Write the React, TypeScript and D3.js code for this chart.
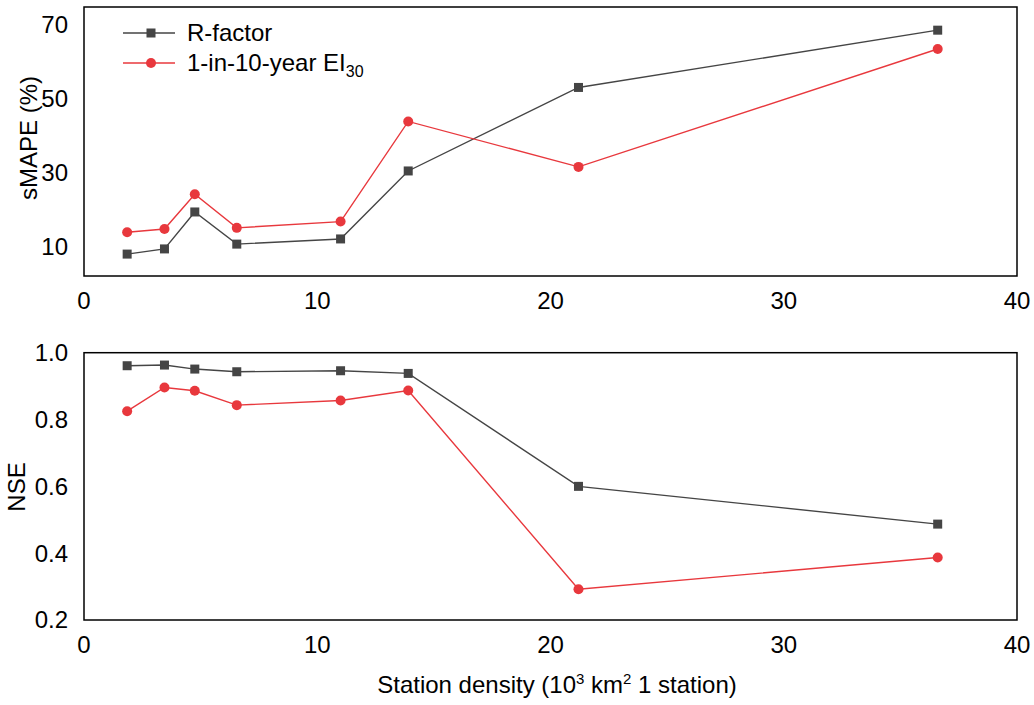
import React from 'react';
import * as d3 from 'd3';

// station density (10^3 km2 per station)
const density = [1.85, 3.45, 4.75, 6.55, 11.0, 13.9, 21.2, 36.6];

const smapeR = [8.0, 9.4, 19.4, 10.7, 12.1, 30.5, 53.1, 68.6];
const smapeEI = [13.9, 14.8, 24.2, 15.1, 16.8, 43.9, 31.6, 63.5];

const nseR = [0.961, 0.963, 0.951, 0.943, 0.946, 0.938, 0.6, 0.487];
const nseEI = [0.825, 0.896, 0.886, 0.843, 0.857, 0.887, 0.292, 0.387];

const xTicks = [0, 10, 20, 30, 40];
const smapeTicks = [10, 30, 50, 70];
const nseTicks = [0.2, 0.4, 0.6, 0.8, 1.0];

const GREY = '#454545';
const RED = '#e8383d';
const FONT = '"Liberation Sans", Arial, sans-serif';
const FS = 24;

const left = 84;
const right = 1017;

const x = d3.scaleLinear().domain([0, 40]).range([left, right]);

type PanelProps = {
  top: number;
  bottom: number;
  y: d3.ScaleLinear<number, number>;
  yTicks: number[];
  fmt: (v: number) => string;
  r: number[];
  ei: number[];
  title: string;
  titleX: number;
  titleY: number;
};

const Panel: React.FC<PanelProps> = ({ top, bottom, y, yTicks, fmt, r, ei, title, titleX, titleY }) => {
  const line = d3.line<number>().x((_, i) => x(density[i])).y(d => y(d));
  return (
    <g>
      <rect x={left} y={top} width={right - left} height={bottom - top} fill="none" stroke="#000" strokeWidth={1.5} />
      {yTicks.map(t => (
        <text key={t} x={left - 16} y={y(t)} dy="0.35em" textAnchor="end" fontSize={FS} fontFamily={FONT}>{fmt(t)}</text>
      ))}
      {xTicks.map(t => (
        <text key={t} x={x(t)} y={bottom + 25} dy="0.35em" textAnchor="middle" fontSize={FS} fontFamily={FONT}>{t}</text>
      ))}
      <text transform={`translate(${titleX},${titleY}) rotate(-90)`} textAnchor="middle" dy="0.35em" fontSize={FS} fontFamily={FONT}>{title}</text>
      <path d={line(r) ?? ''} fill="none" stroke={GREY} strokeWidth={1.4} />
      <path d={line(ei) ?? ''} fill="none" stroke={RED} strokeWidth={1.4} />
      {r.map((v, i) => (
        <rect key={i} x={x(density[i]) - 4.5} y={y(v) - 4.5} width={9} height={9} fill={GREY} />
      ))}
      {ei.map((v, i) => (
        <circle key={i} cx={x(density[i])} cy={y(v)} r={5} fill={RED} />
      ))}
    </g>
  );
};

export default function App() {
  const yTop = d3.scaleLinear().domain([10, 70]).range([246.7, 25]);
  const yBot = d3.scaleLinear().domain([0.2, 1.0]).range([620, 352.7]);

  return (
    <svg width={1034} height={705} style={{ position: 'absolute', left: 0, top: 0, background: '#fff' }}>
      <Panel top={7} bottom={276} y={yTop} yTicks={smapeTicks} fmt={d => String(d)}
        r={smapeR} ei={smapeEI} title="sMAPE (%)" titleX={29} titleY={138} />
      <Panel top={352.7} bottom={620} y={yBot} yTicks={nseTicks} fmt={d => d.toFixed(1)}
        r={nseR} ei={nseEI} title="NSE" titleX={17} titleY={487} />

      {/* legend */}
      <g fontFamily={FONT} fontSize={FS}>
        <line x1={123} x2={175} y1={33} y2={33} stroke={GREY} strokeWidth={1.4} />
        <rect x={146.5} y={28.5} width={9} height={9} fill={GREY} />
        <text x={187} y={33} dy="0.35em">R-factor</text>
        <line x1={123} x2={175} y1={63} y2={63} stroke={RED} strokeWidth={1.4} />
        <circle cx={151} cy={63} r={5} fill={RED} />
        <text x={187} y={63} dy="0.35em">
          1-in-10-year EI<tspan fontSize={16} dy="6">30</tspan>
        </text>
      </g>

      <text x={557} y={693} textAnchor="middle" fontSize={FS} fontFamily={FONT}>
        Station density (10<tspan fontSize={15} dy="-9">3</tspan>
        <tspan dy="9"> km</tspan><tspan fontSize={15} dy="-9">2</tspan>
        <tspan dy="9"> 1 station)</tspan>
      </text>
    </svg>
  );
}
